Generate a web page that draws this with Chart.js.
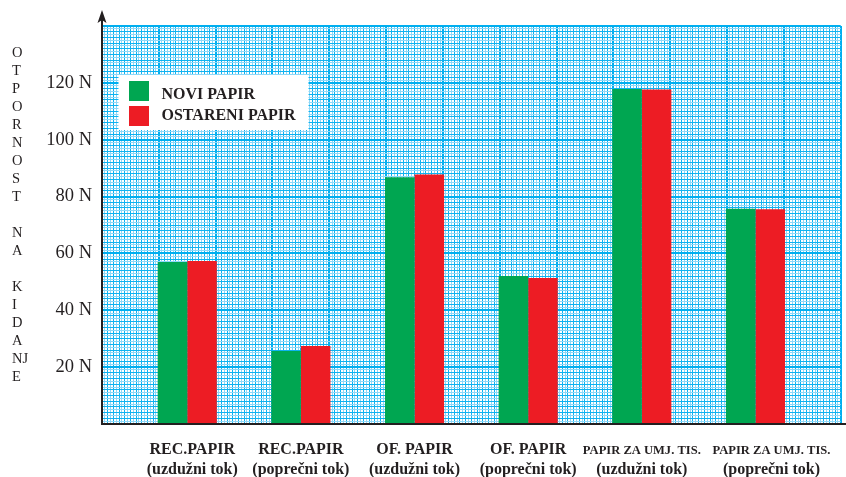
<!DOCTYPE html>
<html>
<head>
<meta charset="utf-8">
<script src="https://cdn.jsdelivr.net/npm/chart.js@4/dist/chart.umd.min.js"></script>
<style>
  html, body { margin: 0; padding: 0; background: #fff; }
  #wrap { width: 846px; height: 477px; position: relative; }
</style>
</head>
<body>
<div id="wrap"><canvas id="chart"></canvas></div>
<script>
// data (values in N)
var categories = [
  ['REC.PAPIR', '(uzdužni tok)'],
  ['REC.PAPIR', '(poprečni tok)'],
  ['OF. PAPIR', '(uzdužni tok)'],
  ['OF. PAPIR', '(poprečni tok)'],
  ['PAPIR ZA UMJ. TIS.', '(uzdužni tok)'],
  ['PAPIR ZA UMJ. TIS.', '(poprečni tok)']
];
var seriesNames = ['NOVI PAPIR', 'OSTARENI PAPIR'];
var noviPapir = [57.0, 25.7, 86.8, 52.1, 117.8, 75.7];
var ostareniPapir = [57.3, 27.4, 87.8, 51.4, 117.7, 75.5];
var yTickValues = [20, 40, 60, 80, 100, 120];
var yTitleLetters = ['O', 'T', 'P', 'O', 'R', 'N', 'O', 'S', 'T', '', 'N', 'A', '', 'K', 'I', 'D', 'A', 'NJ', 'E'];

var INK = '#231f20';
var SERIF = '"Liberation Serif", "Times New Roman", serif';

// graph paper: thick line every 20 units, mid line every 2, pale line every 1
function paperColor(ctx) {
  var v = Math.round(ctx.tick ? ctx.tick.value : 0);
  if (v % 20 === 0) return '#00aeef';
  if (v % 2 === 0) return '#0fb2f0';
  return '#8ed8f8';
}
function paperWidth(ctx) {
  var v = Math.round(ctx.tick ? ctx.tick.value : 0);
  return v % 20 === 0 ? 2 : 1;
}

// legend box, vertical title, two-line category labels and axis arrows
var paperPlugin = {
  id: 'paper',
  afterDraw: function(chart, args, opts) {
    var c = chart.ctx, a = chart.chartArea, xs = chart.scales.x;
    c.save();

    // legend
    c.fillStyle = '#fff';
    c.fillRect(a.left + 16.5, a.top + 49, 190, 55);
    c.font = 'bold 16px ' + SERIF;
    c.textBaseline = 'alphabetic';
    c.textAlign = 'left';
    chart.data.datasets.forEach(function(ds, i) {
      c.fillStyle = ds.backgroundColor;
      c.fillRect(a.left + 27, a.top + 55 + i * 25, 20, 20);
      c.fillStyle = INK;
      c.fillText(ds.label, a.left + 59.5, a.top + 73 + i * 21);
    });

    // vertical axis title, one letter per line
    c.font = '14.5px ' + SERIF;
    c.fillStyle = INK;
    yTitleLetters.forEach(function(t, i) {
      c.fillText(t, 12, 56.5 + i * 18.05);
    });

    // category labels
    c.textAlign = 'center';
    categories.forEach(function(lines, i) {
      var cx = xs.getPixelForValue(i) + opts.nudge[i];
      c.font = 'bold 16px ' + SERIF;
      var w = c.measureText(lines[0]).width;
      var size = w > 118 ? 16 * 118 / w : 16;
      c.font = 'bold ' + size.toFixed(2) + 'px ' + SERIF;
      c.fillText(lines[0], cx, a.bottom + 30);
      c.font = 'bold 16px ' + SERIF;
      c.fillText(lines[1], cx, a.bottom + 50);
    });

    // axis arrows
    c.strokeStyle = INK;
    c.fillStyle = INK;
    c.lineWidth = 2;
    c.beginPath();
    c.moveTo(a.left, a.top);
    c.lineTo(a.left, 18);
    c.stroke();
    c.beginPath();
    c.moveTo(a.left, 10);
    c.lineTo(a.left + 4.5, 23);
    c.lineTo(a.left, 20);
    c.lineTo(a.left - 4.5, 23);
    c.closePath();
    c.fill();
    c.beginPath();
    c.moveTo(a.right - 1, a.bottom);
    c.lineTo(chart.width, a.bottom);
    c.stroke();

    c.restore();
  }
};

new Chart(document.getElementById('chart'), {
  type: 'bar',
  data: {
    datasets: [
      {
        label: seriesNames[0],
        data: noviPapir.map(function(v, i) { return { x: i, y: v }; }),
        backgroundColor: '#00a651'
      },
      {
        label: seriesNames[1],
        data: ostareniPapir.map(function(v, i) { return { x: i, y: v }; }),
        backgroundColor: '#ed1c24'
      }
    ]
  },
  options: {
    responsive: true,
    maintainAspectRatio: false,
    animation: false,
    layout: { padding: { top: 26, right: 5.3, left: 0, bottom: 0 } },
    datasets: { bar: { categoryPercentage: 0.52, barPercentage: 1, borderWidth: 0 } },
    plugins: {
      legend: { display: false },
      tooltip: { enabled: false },
      paper: { nudge: [5, 0, 0, 0, 0, 16] }
    },
    scales: {
      x: {
        type: 'linear',
        position: 'bottom',
        offset: false,
        min: -0.75,
        max: 5.75,
        afterBuildTicks: function(s) {
          s.ticks = categories.map(function(_, i) { return { value: i }; });
        },
        afterFit: function(s) { s.height = 53; },
        ticks: { display: false },
        grid: { display: false, offset: false },
        border: { color: INK, width: 2 }
      },
      xg: {
        type: 'linear',
        position: 'top',
        offset: false,
        min: 0,
        max: 260,
        ticks: { display: false, stepSize: 1 },
        grid: { color: paperColor, lineWidth: paperWidth, drawTicks: false, offset: false },
        border: { display: false }
      },
      y: {
        min: 0,
        max: 140,
        afterFit: function(s) { s.width = 102; },
        ticks: {
          stepSize: 1,
          autoSkip: false,
          padding: 10,
          color: INK,
          font: { family: SERIF, size: 18.5 },
          callback: function(v) { return yTickValues.indexOf(v) >= 0 ? v + ' N' : ''; }
        },
        grid: { color: paperColor, lineWidth: paperWidth, drawTicks: false },
        border: { color: INK, width: 2 }
      }
    }
  },
  plugins: [paperPlugin]
});
</script>
</body>
</html>
